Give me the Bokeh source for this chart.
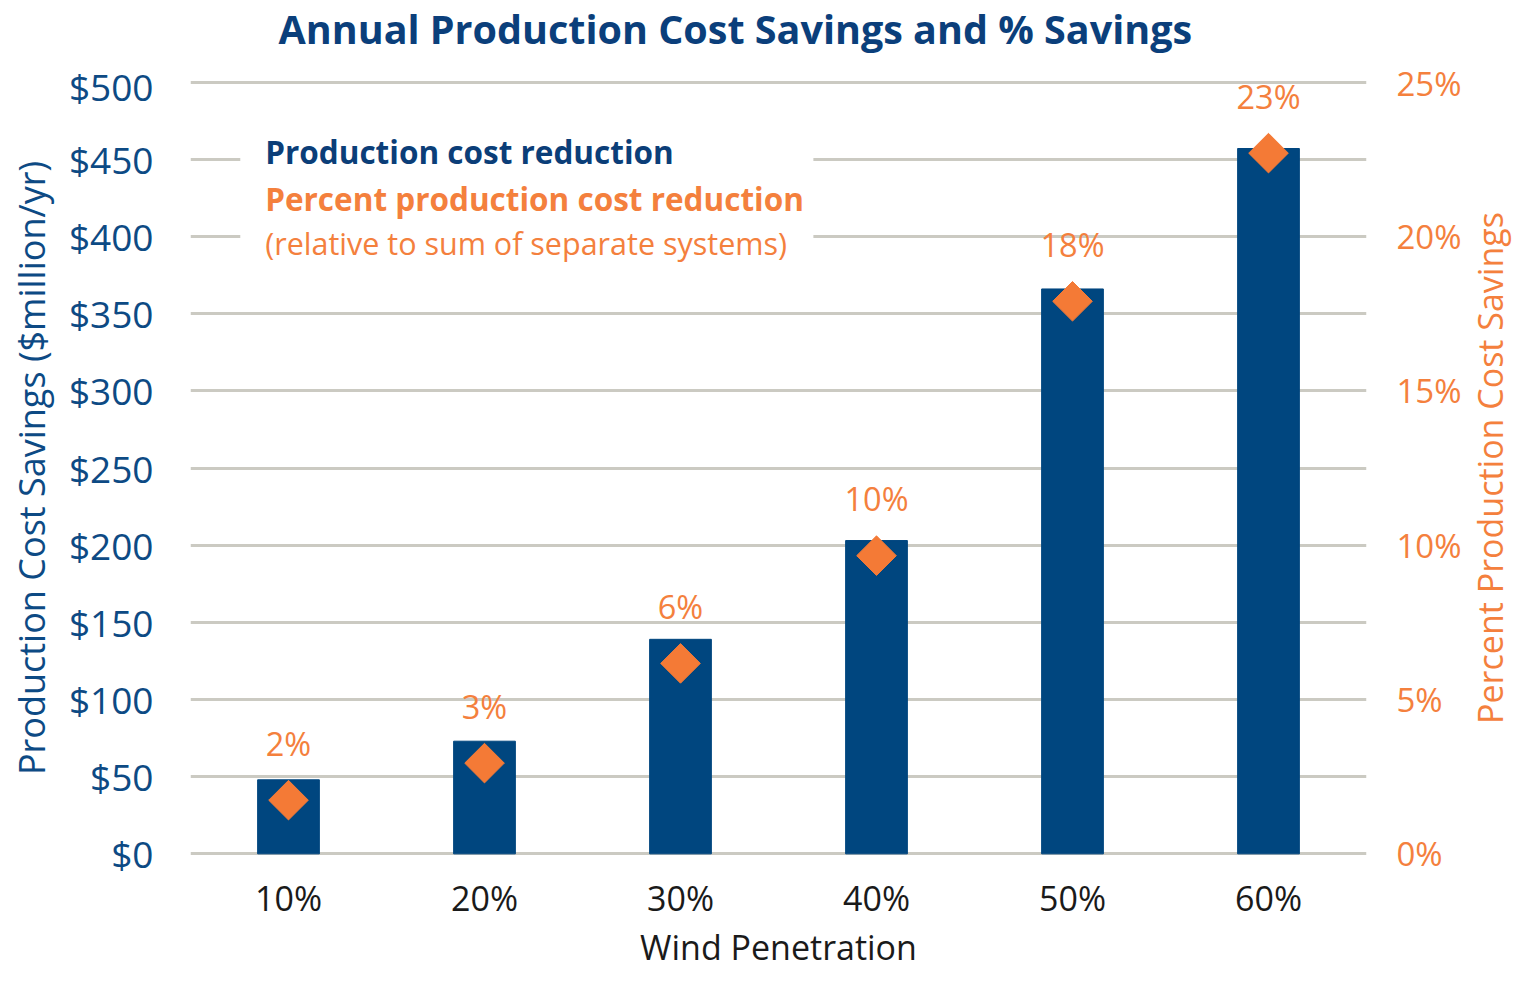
import math
from bokeh.plotting import figure
from bokeh.layouts import row, column
from bokeh.models import (Range1d, LinearAxis, FixedTicker, PrintfTickFormatter,
                          BoxAnnotation, Label, ColumnDataSource, Title)
from bokeh.core.properties import value
from bokeh.embed import file_html
from bokeh.resources import INLINE

# ---------------- data ----------------
categories = ["10%", "20%", "30%", "40%", "50%", "60%"]
savings = [48, 73, 139, 203, 366, 457]              # $million/yr
pct_savings = [1.74, 2.94, 6.17, 9.66, 17.9, 22.7]  # percent
pct_labels = ["2%", "3%", "6%", "10%", "18%", "23%"]
left_ticks = [0, 50, 100, 150, 200, 250, 300, 350, 400, 450, 500]
right_ticks = [0, 5, 10, 15, 20, 25]
title_text = "Annual Production Cost Savings and % Savings"

BLUE = "#00467f"
BLUE_TXT = "#0d4a84"
ORANGE = "#f47a36"
ORANGE_TXT = "#f4803d"
GRID = "#cbcac2"
FONT = "Open Sans"

pad = 3
W, H_TOP = 1522, 60
W_MAIN, W_SIDE, H = 1464, 58, 912
FRAME_L, FRAME_R = 190, 1370
BORDER_T, BORDER_B = 17, 111

# ---------------- title strip ----------------
top = figure(width=W, height=H_TOP, output_backend="svg", toolbar_location=None,
             x_axis_type=None, y_axis_type=None, x_range=Range1d(0, W),
             y_range=Range1d(0, H_TOP), min_border=0)
top.outline_line_color = None
top.grid.visible = False
top.add_layout(Label(x=278, y=H_TOP - 28, text=title_text, text_align="left",
                     text_baseline="middle", text_font=FONT,
                     text_font_size="39.5px", text_font_style="bold",
                     text_color="#0b3f7b"))

# ---------------- main chart ----------------
p = figure(x_range=categories, y_range=Range1d(-pad, 500 + pad),
           width=W_MAIN, height=H, output_backend="svg", toolbar_location=None,
           min_border_left=FRAME_L, min_border_right=W_MAIN - FRAME_R,
           min_border_top=BORDER_T, min_border_bottom=BORDER_B)
p.outline_line_color = None
p.background_fill_color = "white"

p.extra_y_ranges = {"pct": Range1d(-pad * 25 / 500, 25 + pad * 25 / 500)}

# grid
p.xgrid.grid_line_color = None
p.ygrid.ticker = FixedTicker(ticks=left_ticks)
p.ygrid.grid_line_color = GRID
p.ygrid.grid_line_width = 3

# left axis
ya = p.yaxis[0]
ya.ticker = FixedTicker(ticks=left_ticks)
ya.formatter = PrintfTickFormatter(format="$%d")
ya.axis_line_color = None
ya.major_tick_line_color = None
ya.minor_tick_line_color = None
ya.major_label_standoff = 31
ya.major_label_text_font = FONT
ya.major_label_text_font_size = "37px"
ya.major_label_text_color = BLUE_TXT
ya.axis_label = "Production Cost Savings ($million/yr)"
ya.axis_label_text_font = FONT
ya.axis_label_text_font_size = "36px"
ya.axis_label_text_font_style = "normal"
ya.axis_label_text_color = BLUE_TXT
ya.axis_label_standoff = 10

# right axis (tick labels only; its title sits in the narrow side panel)
ra = LinearAxis(y_range_name="pct", ticker=FixedTicker(ticks=right_ticks),
                formatter=PrintfTickFormatter(format="%d%%"))
ra.axis_line_color = None
ra.major_tick_line_color = None
ra.minor_tick_line_color = None
ra.major_label_standoff = 24
ra.major_label_text_font = FONT
ra.major_label_text_font_size = "33px"
ra.major_label_text_color = ORANGE_TXT
p.add_layout(ra, "right")

# x axis
xa = p.xaxis[0]
xa.axis_line_color = None
xa.major_tick_line_color = None
xa.minor_tick_line_color = None
xa.major_label_standoff = 10
xa.major_label_text_font = FONT
xa.major_label_text_font_size = "34px"
xa.major_label_text_color = "#1a1a1a"
xa.axis_label = "Wind Penetration"
xa.axis_label_text_font = FONT
xa.axis_label_text_font_size = "34px"
xa.axis_label_text_font_style = "normal"
xa.axis_label_text_color = "#1a1a1a"
xa.axis_label_standoff = 0

src = ColumnDataSource(dict(cat=categories, sav=savings, pct=pct_savings, lab=pct_labels))

p.vbar(x="cat", top="sav", width=0.315, bottom=0, source=src,
       fill_color=BLUE, line_color=BLUE)

p.scatter(x="cat", y="pct", y_range_name="pct", source=src, marker="square",
          size=28, angle=math.pi / 4, fill_color=ORANGE, line_color=ORANGE)

p.text(x="cat", y="pct", text="lab", y_range_name="pct", source=src,
       y_offset=-57, text_align="center", text_baseline="middle",
       text_font=value(FONT), text_font_size="32.5px", text_color=ORANGE_TXT)

# legend-like annotation block
p.add_layout(BoxAnnotation(left=0.254, right=3.178, bottom=382, top=472,
                           fill_color="white", fill_alpha=1.0, line_alpha=0.0))
p.add_layout(Label(x=0.381, y=454.8, text="Production cost reduction",
                   text_baseline="middle", text_font=FONT, text_font_size="31.5px",
                   text_font_style="bold", text_color="#0b3e78"))
p.add_layout(Label(x=0.381, y=424.4, text="Percent production cost reduction",
                   text_baseline="middle", text_font=FONT, text_font_size="31.5px",
                   text_font_style="bold", text_color=ORANGE_TXT))
p.add_layout(Label(x=0.381, y=396.0, text="(relative to sum of separate systems)",
                   text_baseline="middle", text_font=FONT, text_font_size="30.5px",
                   text_color=ORANGE_TXT))

# narrow side panel carrying the right-hand axis title (reads bottom to top)
side = figure(width=W_SIDE, height=H, output_backend="svg", toolbar_location=None,
              x_axis_type=None, y_axis_type=None, x_range=Range1d(0, 1),
              y_range=Range1d(0, 1), min_border_left=0, min_border_right=0,
              min_border_top=BORDER_T, min_border_bottom=BORDER_B)
side.outline_line_color = None
side.grid.visible = False
side.add_layout(Title(text="Percent Production Cost Savings", align="center",
                      vertical_align="bottom", standoff=0, text_font=FONT,
                      text_font_size="34px", text_font_style="normal",
                      text_color=ORANGE_TXT), "left")

layout = column(top, row(p, side, spacing=0), spacing=0)
open("out.html", "w").write(file_html(layout, INLINE))
